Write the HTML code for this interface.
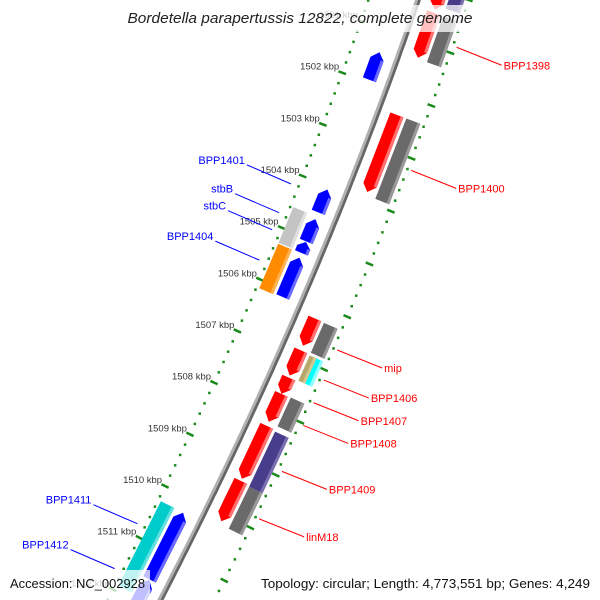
<!DOCTYPE html>
<html><head><meta charset="utf-8"><style>
html,body{margin:0;padding:0;background:#fff;width:600px;height:600px;overflow:hidden;}
svg{display:block;font-family:"Liberation Sans",sans-serif;overflow:hidden;}
</style></head><body>
<svg id="chart" width="600" height="600" viewBox="0 0 600 600" xmlns="http://www.w3.org/2000/svg">
<g id="dots"></g>
<g id="backbone"></g>
<g id="genes"></g>
<g id="labels"></g>
<rect x="122" y="5" width="358" height="27" fill="rgba(255,255,255,0.75)"/>
<text x="300" y="23" text-anchor="middle" font-size="15" font-style="italic" fill="#222" textLength="345" lengthAdjust="spacingAndGlyphs">Bordetella parapertussis 12822, complete genome</text>
<rect x="4" y="570" width="146" height="30" fill="rgba(255,255,255,0.75)"/>
<text x="10" y="588" font-size="13" fill="#111" textLength="135" lengthAdjust="spacingAndGlyphs">Accession: NC_002928</text>
<rect x="256" y="570" width="340" height="30" fill="rgba(255,255,255,0.75)"/>
<text x="590" y="588" text-anchor="end" font-size="13" fill="#111" textLength="329" lengthAdjust="spacingAndGlyphs">Topology: circular; Length: 4,773,551 bp; Genes: 4,249</text>
</svg>
<script>
// ---- data ----
const tickKbp = [1500,1501,1502,1503,1504,1505,1506,1507,1508,1509,1510,1511,1512,1513];
const geneStart = [1500.0,1500.42,1500.0,1500.42,1501.42,1502.37,1502.37,1504.06,1504.58,1504.63,1505.07,1505.29,1505.37,1506.25,1506.26,1506.86,1506.88,1506.88,1507.38,1507.69,1507.68,1508.3,1508.33,1509.38,1509.35,1510.27,1510.28,1511.57];
const geneEnd   = [1500.36,1501.28,1500.28,1501.3,1501.95,1503.84,1503.9,1504.5,1505.27,1505.06,1505.28,1506.15,1506.13,1506.77,1506.83,1507.34,1507.36,1507.36,1507.69,1508.22,1508.23,1509.31,1509.38,1510.18,1510.12,1511.9,1511.56,1512.4];
const geneTrack = [1,1,2,2,-1,1,2,-1,-2,-1,-1,-2,-1,1,2,1,2.1,2.2,1,1,2,1,2,2,1,-2,-1,-1];
const geneColor = ["red","red","purple","gray","blue","red","gray","blue","lgray","blue","blue","orange","blue","red","gray","red","khaki","cyan","red","red","gray","red","purple","gray","red","teal","blue","blue"];
const labelText = ["BPP1398","BPP1400","mip","BPP1406","BPP1407","BPP1408","BPP1409","linM18","BPP1401","stbB","stbC","BPP1404","BPP1411","BPP1412"];
const labelKbp  = [1500.87,1503.2,1506.6,1507.17,1507.6,1508.03,1508.9,1509.8,1504.21,1504.77,1505.1,1505.69,1510.8,1511.67];
const labelSide = [1,1,1,1,1,1,1,1,-1,-1,-1,-1,-1,-1];

// ---- geometry ----
const NS="http://www.w3.org/2000/svg";
const f = y => 418 - 0.343*y - 0.000144*y*y;
const fp = y => -0.343 - 0.000288*y;
const yb = k => 89 + 52.2*(k-1502);
function P(k,v){const y=yb(k),x=f(y),d=fp(y),n=Math.sqrt(1+d*d);return [x+v/n, y-v*d/n];}
const pts = a => a.map(p=>p[0].toFixed(1)+","+p[1].toFixed(1)).join(" ");
const pal = {red:["#ff0000","#ff7070"],gray:["#6a6a6a","#999"],purple:["#483d8b","#7a70b0"],blue:["#0000ff","#6a6aff"],lgray:["#c4c4c4","#e0e0e0"],orange:["#ff8c00","#ffb050"],khaki:["#b5a86a","#d4c890"],cyan:["#00ffff","#90ffff"],teal:["#00cccc","#60e0e0"]};
function mk(tag,parent,attrs){const e=document.createElementNS(NS,tag);for(const a in attrs)e.setAttribute(a,attrs[a]);parent.appendChild(e);return e;}

// scale dots and ticks
const gD=document.getElementById('dots');
[-47,48].forEach(v=>{
  for(let i=0;i<(tickKbp.length-1)*5;i++){
    const k=tickKbp[0]+i*0.2;
    if(i%5===0) continue;
    const p=P(k,v);
    const r=mk('rect',gD,{x:(p[0]-1.2).toFixed(1),y:(p[1]-1.2).toFixed(1),width:2.5,height:2.5,fill:'#1a8a1a'});
    
    
  }
});
tickKbp.forEach(k=>{
  [[-51,-43],[44,52]].forEach(r=>{
    const a=P(k,r[0]),b=P(k,r[1]);
    const l=mk('line',gD,{x1:a[0],y1:a[1],x2:b[0],y2:b[1],stroke:'#1a8a1a','stroke-width':2.5});
    
    
  });
  const t=P(k,-47);
  const tx=mk('text',gD,{x:(t[0]-3).toFixed(1),y:(t[1]-3).toFixed(1),'text-anchor':'end','font-size':9,fill:'#333',textLength:39,lengthAdjust:'spacingAndGlyphs'});
  tx.textContent=k+" kbp";
  
  
});

// backbone
const gB=document.getElementById('backbone');
function line(v){const a=[];for(let k=1499.5;k<=1513;k+=0.1)a.push(P(k,v));return pts(a);}
let bl=mk('polyline',gB,{points:line(-1.4),fill:'none',stroke:'#b0b0b0','stroke-width':2.8});


let bd=mk('polyline',gB,{points:line(1.4),fill:'none',stroke:'#666','stroke-width':2.8});



// genes
const gG=document.getElementById('genes');
const trackV={1:[12,26],2:[29,44],2.1:[29,36.5],2.2:[36.5,44],"-1":[-26,-12],"-2":[-44,-29]};
geneStart.forEach((s,i)=>{
  const e=geneEnd[i],t=geneTrack[i],c=pal[geneColor[i]],[v1,v2]=trackV[t];
  const mid=(v1+v2)/2,h=Math.min(0.13,(e-s)/2);
  let poly;
  if(t===1){poly=[P(s,v1),P(s,v2),P(e-h,v2),P(e,mid),P(e-h,v1)];}
  else if(t===-1){poly=[P(s,mid),P(s+h,v2),P(e,v2),P(e,v1),P(s+h,v1)];}
  else poly=[P(s,v1),P(s,v2),P(e,v2),P(e,v1)];
  const g=mk('g',gG,{});
  
  
  mk('polygon',g,{points:pts(poly),fill:c[0]});
  const hs=t===1?[P(s,v2-3),P(s,v2),P(e-h,v2),P(e-h,v2-3)]:t===-1?[P(s+h,v2-3),P(s+h,v2),P(e,v2),P(e,v2-3)]:[P(s,v2-3),P(s,v2),P(e,v2),P(e,v2-3)];
  mk('polygon',g,{points:pts(hs),fill:c[1]});
});

// labels
const gL=document.getElementById('labels');
labelText.forEach((txt,i)=>{
  const side=labelSide[i];
  const col=side>0?'#ff0000':'#0000ff';
  const a=P(labelKbp[i],side>0?52:-55);
  const b=side>0?[a[0]+45,a[1]+18]:[a[0]-44,a[1]-19];
  const l=mk('line',gL,{x1:a[0],y1:a[1],x2:b[0],y2:b[1],stroke:col,'stroke-width':1});
  
  
  const tx=mk('text',gL,{x:side>0?b[0]+2:b[0]-2,y:side>0?b[1]+4:b[1]-1,'text-anchor':side>0?'start':'end','font-size':11,fill:col});
  tx.textContent=txt;
  
  
});
</script>
</body></html>
